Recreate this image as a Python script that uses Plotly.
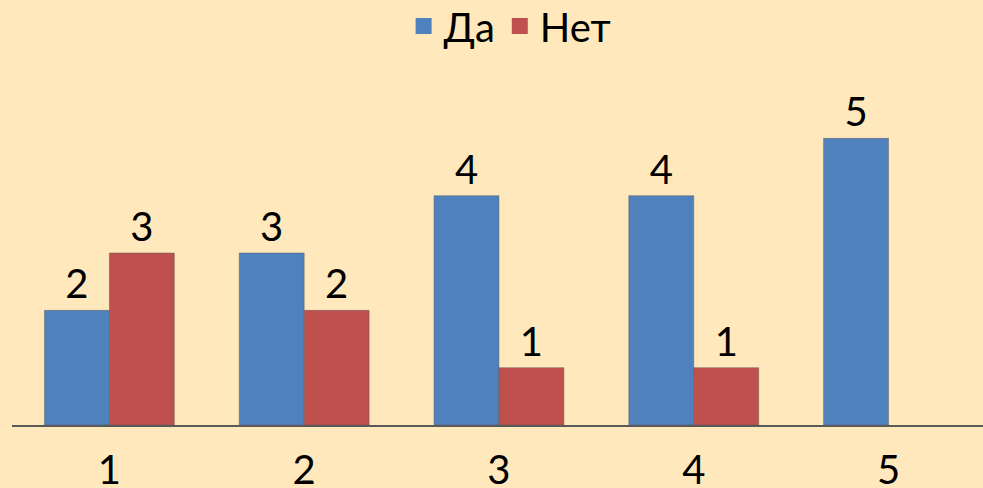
import plotly.graph_objects as go

categories = ["1", "2", "3", "4", "5"]
da = [2, 3, 4, 4, 5]
net = [3, 2, 1, 1, 0]
series_names = ["Да", "Нет"]
colors = ["#4F81BD", "#C0504D"]

FONT = "Lato"
FS = 40

fig = go.Figure()
for name, vals, col in zip(series_names, [da, net], colors):
    fig.add_trace(go.Bar(
        x=categories, y=vals, name=name,
        marker=dict(color=col, line=dict(color="rgba(90,90,90,0.45)",
                                         width=[1 if v else 0 for v in vals])),
        text=[str(v) if v else "" for v in vals],
        textposition="outside", cliponaxis=False,
        textfont=dict(size=FS, color="#000000", family=FONT),
        showlegend=False,
    ))
    fig.add_trace(go.Scatter(
        x=[None], y=[None], mode="markers", name=name,
        marker=dict(symbol="square", size=19, color=col),
        showlegend=True,
    ))

fig.update_layout(
    width=983, height=488,
    paper_bgcolor="#FEE8BC", plot_bgcolor="#FEE8BC",
    margin=dict(l=12, r=0, t=81, b=63, autoexpand=False),
    barmode="group", bargap=0.333, bargroupgap=0,
    font=dict(family=FONT, size=FS, color="#000000"),
    legend=dict(orientation="h", x=0.513, xanchor="center", y=1.16, yanchor="middle",
                font=dict(size=FS), itemwidth=30, tracegroupgap=0,
                bgcolor="rgba(0,0,0,0)"),
    xaxis=dict(range=[-0.5, 4.485], showline=True, linecolor="#595959", linewidth=1.5,
               ticks="", showgrid=False, tickfont=dict(size=FS), ticklabelstandoff=9),
    yaxis=dict(range=[0, 6], visible=False, showgrid=False, zeroline=False),
)

fig.write_html("out.html", config={"displayModeBar": False},
               post_script="document.body.style.margin='0';document.body.style.overflow='hidden';")
